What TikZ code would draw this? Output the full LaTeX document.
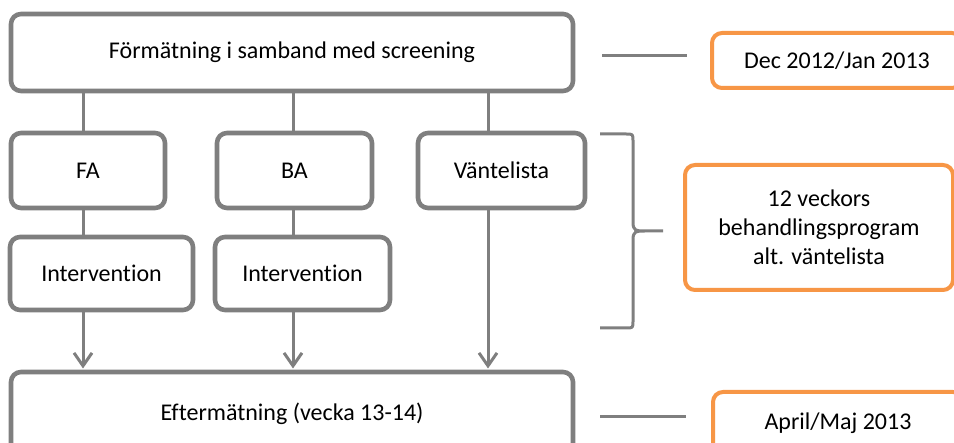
\documentclass[tikz,border=0pt]{standalone}
\usepackage{fontspec}
\setmainfont{Carlito}[Ligatures=CommonOff]
\usetikzlibrary{arrows.meta,calc}
\begin{document}
\begin{tikzpicture}[x=0.5pt,y=-0.5pt,
    box/.style={draw=cl1, line width=2.3pt, rounded corners=5pt, fill=white,
                align=center, inner sep=0pt, font=\fontsize{12}{14.5}\selectfont},
    datebox/.style={box, draw=cl2, line width=2pt},
    link/.style={draw=cl1, line width=1.5pt},
    arr/.style={link, -{Straight Barb[length=6.5pt,width=9pt,line width=1.5pt]}}]
            \definecolor{cl1}{HTML}{7F7F7F}
            \definecolor{cl2}{HTML}{F79646}
            \useasboundingbox (0,0) rectangle (954,443);
            \clip (0,0) rectangle (954,443);
            \node[box, minimum width=281pt,  minimum height=38.5pt] (top) at (292,52.5)   {Förmätning i samband med screening};
            \node[box, minimum width=77pt,   minimum height=37.5pt] (fa)  at (88,170.5)   {FA};
            \node[box, minimum width=77.5pt, minimum height=37.5pt] (ba)  at (294.5,170.5) {BA};
            \node[box, minimum width=83.5pt, minimum height=37.5pt] (vl)  at (501.5,170.5) {Väntelista};
            \node[box, minimum width=91.5pt, minimum height=36.5pt] (ia)  at (101.5,273.5) {Intervention};
            \node[box, minimum width=87.5pt, minimum height=36.5pt] (ib)  at (302.5,273.5) {Intervention};
            \node[box, minimum width=281pt,  minimum height=41.5pt] (bot) at (292,413.5)  {Eftermätning (vecka 13-14)};
            \node[datebox, minimum width=125pt, minimum height=27.5pt] (d1) at (837,60.5)  {Dec 2012/Jan 2013};
            \node[datebox, minimum width=134pt, minimum height=62.5pt] (d2) at (819,227.5) {12 veckors\\behandlingsprogram\\alt. väntelista};
            \node[datebox, minimum width=125pt, minimum height=31pt]   (d3) at (838,423)   {April/Maj 2013};
            \coordinate (c1) at (83,0);
            \coordinate (c2) at (293,0);
            \coordinate (c3) at (488,0);
            \coordinate (t1) at (602,56);
            \coordinate (t2) at (687,56);
            \coordinate (b1) at (600,417);
            \coordinate (b2) at (686,417);
            \draw[link] (top.south -| c1) -- (fa.north -| c1);
            \draw[link] (top.south -| c2) -- (ba.north -| c2);
            \draw[link] (top.south -| c3) -- (vl.north -| c3);
            \draw[link] (fa.south -| c1) -- (ia.north -| c1);
            \draw[link] (ba.south -| c2) -- (ib.north -| c2);
            \draw[arr] (ia.south -| c1) -- ([yshift=0.6pt]bot.north -| c1);
            \draw[arr] (ib.south -| c2) -- ([yshift=0.6pt]bot.north -| c2);
            \draw[arr] (vl.south -| c3) -- ([yshift=0.6pt]bot.north -| c3);
            \draw[link] (t1) -- (t2);
            \draw[link] (b1) -- (b2);
            \draw[link, line join=round] (600,134) -- (626,134) .. controls (633,134) .. (633,141)
                -- (633,222) .. controls (633,231) and (636,231) .. (645,231) -- (663,231)
                (645,231) .. controls (636,231) and (633,231) .. (633,240)
                -- (633,321) .. controls (633,328) .. (626,328) -- (600,328);
        \end{tikzpicture}
\end{document}
